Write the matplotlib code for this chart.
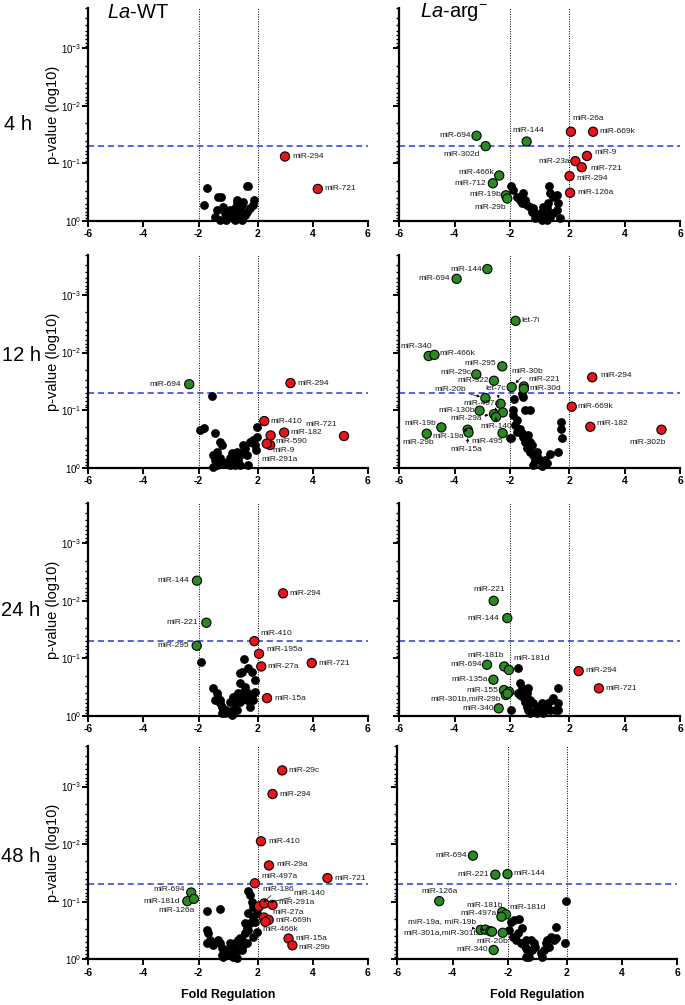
import numpy as np
import matplotlib
matplotlib.use('Agg')
import matplotlib.pyplot as plt
from matplotlib.ticker import FixedLocator, LogLocator, NullLocator

plt.rcParams['font.family'] = 'Liberation Sans'
plt.rcParams['mathtext.fontset'] = 'custom'
plt.rcParams['mathtext.rm'] = 'Liberation Sans'
plt.rcParams['mathtext.it'] = 'Liberation Sans:italic'
plt.rcParams['mathtext.bf'] = 'Liberation Sans:bold'

# ---- data: fold regulation (fc) and -log10(p) (nlp) ----
# La-WT 4 h
wt4_bg_fc = [-1.71, -1.81, -1.29, -1.20, -1.41, -1.23, -1.0, 1.12, 1.12, 1.18, 1.24, 1.24, 1.36, 1.42, 1.48,
             1.60, 1.66, 1.60, 1.72, 1.84, 1.87, -1.05, 1.0, 1.30, 1.0, -1.35, 1.42, 1.54, 1.18, -1.11]
wt4_bg_nlp = [0.58, 0.28, 0.42, 0.41, 0.075, 0.017, 0.017, 0.046, 0.133, 0.22, 0.31, 0.365, 0.19, 0.28, 0.336,
              0.60, 0.60, 0.16, 0.22, 0.28, 0.365, 0.133, 0.19, 0.075, 0.075, 0.19, 0.017, 0.104, 0.017, 0.25]
wt4_lab = ['miR-294', 'miR-721']
wt4_fc = [2.99, 4.18]
wt4_nlp = [1.12, 0.557]

# La-arg- 4 h
arg4_bg_fc = [-1.98, -1.88, -1.54, -1.64, -1.58, -1.40, -1.28, -1.16, -1.10, -1.10, -1.0, 1.0, 1.06, 1.12, 1.18,
              1.24, 1.28, 1.30, 1.42, 1.54, 1.60, 1.54, 1.42, 1.30, 1.18, 1.66, -1.22, -1.46, -1.76, 1.0, 1.06]
arg4_bg_nlp = [0.60, 0.54, 0.49, 0.365, 0.31, 0.28, 0.25, 0.22, 0.133, 0.046, 0.075, 0.017, 0.046, 0.133, 0.22,
               0.31, 0.60, 0.48, 0.42, 0.45, 0.31, 0.19, 0.133, 0.075, 0.017, 0.046, 0.16, 0.365, 0.42, 0.16, 0.25]
arg4_lab = ['miR-694', 'miR-302d', 'miR-144', 'miR-466k', 'miR-712', 'miR-19b', 'miR-29b',
            'miR-26a', 'miR-669k', 'miR-9', 'miR-23a', 'miR-721', 'miR-294', 'miR-126a']
arg4_fc = [-3.21, -2.88, -1.40, -2.39, -2.62, -2.15, -2.10, 2.06, 2.86, 2.64, 2.22, 2.45, 2.01, 2.03]
arg4_nlp = [1.48, 1.30, 1.38, 0.79, 0.655, 0.446, 0.39, 1.55, 1.55, 1.13, 1.04, 0.933, 0.78, 0.49]

# La-WT 12 h
wt12_bg_fc = [-1.53, -1.95, -1.81, -1.41, -1.23, -1.35, -1.47, -1.41, -1.35, -1.47, -1.23, -1.11, -1.0, 1.0, 1.12,
              1.12, 1.18, 1.30, 1.36, 1.42, 1.48, 1.54, 1.60, 1.66, 1.72, 1.84, 1.90, 1.96, 1.98, 1.94,
              1.36, 1.0, 1.06, 1.24, -1.17]
wt12_bg_nlp = [1.25, 0.655, 0.696, 0.597, 0.452, 0.278, 0.22, 0.133, 0.046, 0.017, 0.162, 0.104, 0.075, 0.162, 0.22,
               0.104, 0.046, 0.133, 0.22, 0.278, 0.394, 0.336, 0.22, 0.046, 0.452, 0.48, 0.394, 0.713, 0.54, 0.307,
               0.046, 0.046, 0.25, 0.278, 0.394]
wt12_lab = ['miR-694', 'miR-294', 'miR-410', 'miR-182', 'miR-590', 'miR-9', 'miR-291a', 'miR-721']
wt12_fc = [-2.34, 3.19, 2.24, 2.96, 2.47, 2.45, 2.33, 5.13]
wt12_nlp = [1.45, 1.47, 0.81, 0.61, 0.56, 0.394, 0.417, 0.55]

# La-arg- 12 h
arg12_bg_fc = [-1.86, -1.58, -1.54, -1.46, -1.28, -1.88, -1.88, -1.76, -1.82, -1.64, -1.58, -1.52, -1.40, -1.28,
               -1.22, -1.40, -1.28, -1.16, -1.10, -1.16, 1.0, 1.12, 1.30, 1.60, 1.75, 1.69, 1.69, -1.99, -1.98,
               -1.76, -1.46, -1.34, 1.0, 1.18, -1.0, -1.04]
arg12_bg_nlp = [1.19, 1.28, 1.23, 1.00, 1.00, 1.00, 0.92, 0.83, 0.74, 0.68, 0.60, 0.54, 0.51, 0.45,
                0.39, 0.34, 0.28, 0.22, 0.133, 0.046, 0.104, 0.133, 0.23, 0.28, 0.51, 0.68, 0.80, 0.51, 0.51,
                0.626, 0.45, 0.57, 0.035, 0.075, 0.16, 0.28]
arg12_lab = ['miR-144', 'miR-694', 'let-7i', 'miR-340', 'miR-466k', 'miR-295', 'miR-29c', 'miR-322', 'miR-30b',
             'miR-221', 'miR-30d', 'miR-20b', 'let-7c', 'miR-497a', 'miR-130b', 'miR-29a', 'miR-140', 'miR-19b',
             'miR-29b', 'miR-19a', 'miR-15a', 'miR-495', 'miR-294', 'miR-669k', 'miR-182', 'miR-302b']
arg12_fc = [-2.82, -3.93, -1.80, -4.94, -4.73, -2.28, -3.22, -2.58, -1.94, -1.50, -1.50, -2.89, -2.34, -2.26,
            -3.10, -2.58, -2.51, -4.48, -5.01, -3.53, -3.50, -2.27, 2.83, 2.09, 2.76, 5.33]
arg12_nlp = [3.45, 3.28, 2.55, 1.94, 1.96, 1.76, 1.62, 1.51, 1.40, 1.41, 1.37, 1.21, 1.11, 0.96,
             0.99, 0.93, 0.88, 0.70, 0.59, 0.66, 0.61, 0.60, 1.57, 1.06, 0.71, 0.66]

# La-WT 24 h
wt24_bg_fc = [-1.93, -1.47, -1.35, -1.29, -1.23, -1.17, -1.11, -1.05, 1.0, 1.12, 1.18, 1.24, 1.30, 1.36, 1.36,
              1.42, 1.52, 1.66, 1.78, 1.90, 1.90, 1.84, 1.72, 1.60, 1.48, 1.36, 1.24, 1.06, -1.0, -1.17,
              1.12, 1.0, 1.78, 1.66, 1.54, 1.42, -1.23, -1.41]
wt24_bg_nlp = [0.93, 0.48, 0.394, 0.307, 0.22, 0.162, 0.104, 0.046, 0.046, 0.104, 0.22, 0.336, 0.394, 0.568, 0.742,
               0.771, 0.99, 0.83, 0.771, 0.626, 0.423, 0.278, 0.162, 0.278, 0.336, 0.249, 0.104, 0.017, 0.104, 0.046,
               0.336, 0.249, 0.336, 0.394, 0.51, 0.394, 0.278, 0.278]
wt24_lab = ['miR-144', 'miR-221', 'miR-295', 'miR-294', 'miR-410', 'miR-195a', 'miR-27a', 'miR-721', 'miR-15a']
wt24_fc = [-2.06, -1.72, -2.07, 2.92, 1.88, 2.05, 2.13, 3.96, 2.34]
wt24_nlp = [2.35, 1.62, 1.22, 2.13, 1.30, 1.08, 0.86, 0.92, 0.31]

# La-arg- 24 h
arg24_bg_fc = [-1.70, -1.98, -1.64, -1.58, -1.70, -1.52, -1.46, -1.40, -1.34, -1.28, -1.16, -1.04, 1.0, 1.06, 1.18,
               1.24, 1.36, 1.42, 1.60, 1.60, 1.60, 1.48, 1.30, 1.0, -1.04, -1.16, -1.28, -1.40, -1.34, -1.52, -1.64]
arg24_bg_nlp = [0.83, 0.104, 0.568, 0.48, 0.394, 0.336, 0.249, 0.162, 0.104, 0.046, 0.075, 0.046, 0.104, 0.046, 0.162,
                0.22, 0.278, 0.307, 0.48, 0.22, 0.104, 0.104, 0.104, 0.22, 0.162, 0.22, 0.278, 0.394, 0.48, 0.452, 0.365]
arg24_lab = ['miR-221', 'miR-144', 'miR-694', 'miR-181b', 'miR-181d', 'miR-135a', 'miR-155', '',
             'miR-301b,miR-29b', '', 'miR-340', 'miR-294', 'miR-721']
arg24_fc = [-2.59, -2.10, -2.83, -2.21, -2.04, -2.60, -2.22, -2.03, -2.15, -2.09, -2.41, 2.34, 3.07]
arg24_nlp = [2.00, 1.70, 0.89, 0.86, 0.80, 0.63, 0.45, 0.42, 0.365, 0.39, 0.133, 0.78, 0.48]

# La-WT 48 h
wt48_bg_fc = [-1.71, -1.23, -1.71, -1.65, -1.59, -1.71, -1.47, -1.29, -1.23, -1.17, -1.17, -1.11, 1.0, 1.12, 1.24,
              1.06, 1.12, 1.18, 1.30, 1.36, 1.42, 1.54, 1.66, 1.72, 1.66, 1.84, 1.96, 1.90, 1.96, 1.84,
              1.60, 1.48, 1.42, 1.60, 1.66, 1.72, 1.78, 1.84, 1.54, 1.30, 1.12, 1.0, -1.0]
wt48_bg_nlp = [0.846, 0.87, 0.51, 0.464, 0.336, 0.278, 0.249, 0.336, 0.278, 0.191, 0.075, 0.046, 0.075, 0.046, 0.017,
               0.162, 0.22, 0.278, 0.336, 0.365, 0.336, 0.452, 0.51, 0.626, 0.80, 0.742, 0.80, 0.655, 0.48, 0.394,
               0.278, 0.249, 0.162, 0.54, 1.18, 1.12, 1.00, 0.916, 0.626, 0.162, 0.133, 0.278, 0.162]
wt48_lab = ['miR-694', 'miR-181d', 'miR-126a', 'miR-29c', 'miR-294', 'miR-410', 'miR-29a', 'miR-497a', 'miR-721',
            'miR-186', 'miR-140', 'miR-291a', 'miR-27a', 'miR-669h', 'miR-466k', 'miR-15a', 'miR-29b']
wt48_fc = [-2.27, -2.41, -2.17, 2.89, 2.54, 2.12, 2.41, 1.90, 4.53, 2.05, 2.24, 2.54, 2.23, 2.40, 2.28, 3.12, 3.26]
wt48_nlp = [1.16, 1.01, 1.05, 3.28, 2.87, 2.05, 1.63, 1.32, 1.41, 0.92, 0.97, 0.945, 0.725, 0.684, 0.65, 0.36, 0.243]

# La-arg- 48 h
arg48_bg_fc = [1.98, 1.95, -1.88, -1.76, -1.58, -1.94, -1.82, -1.70, -1.47, -1.53, -1.41, -1.35, -1.29, -1.35, -1.23,
               -1.11, -1.05, -1.0, 1.05, 1.11, 1.17, 1.23, 1.29, 1.41, 1.53, 1.59, 1.59, 1.35, -1.17, -1.64, -1.35]
arg48_bg_nlp = [1.01, 0.29, 0.655, 0.684, 0.696, 0.51, 0.394, 0.336, 0.54, 0.278, 0.249, 0.191, 0.162, 0.046, 0.046,
                0.162, 0.278, 0.22, 0.104, 0.046, 0.162, 0.278, 0.336, 0.394, 0.336, 0.568, 0.365, 0.22, 0.336, 0.452, 0.336]
arg48_lab = ['miR-694', 'miR-221', 'miR-144', 'miR-126a', 'miR-181b', 'miR-181d', 'miR-497a', 'miR-19a, miR-19b',
             'miR-301a,miR-301b', '', '', 'miR-20b', 'miR-340']
arg48_fc = [-3.26, -2.45, -2.01, -4.48, -2.20, -2.06, -2.23, -2.98, -2.81, -2.63, -2.57, -2.18, -2.51]
arg48_nlp = [1.80, 1.47, 1.48, 1.01, 0.82, 0.78, 0.74, 0.51, 0.516, 0.487, 0.48, 0.46, 0.162]

# ---- label layout: (dx px, dy px, ha, arrow) ----
wt4_pos = [(7, 0, 'left', 0), (7, 0, 'left', 0)]
arg4_pos = [(-6, 0, 'right', 0), (-6, -8, 'right', 0), (2, 11, 'center', 0), (-5, 3, 'right', 0),
            (-7, 0, 'right', 0), (-5, 1, 'right', 0), (-1, -9, 'right', 0), (1, 13, 'left', 0),
            (6, 0, 'left', 0), (7, 3, 'left', 0), (-5, 0, 'right', 0), (9, -1, 'left', 0),
            (7, -2, 'left', 0), (7, 0, 'left', 0)]
wt12_pos = [(-8, 0, 'right', 0), (7, 0, 'left', 0), (6, 0, 'left', 0), (6, 0, 'left', 0), (5, -6, 'left', 0),
            (2, -5, 'left', 0), (-5, -16, 'left', 0), (-7, 12, 'right', 0)]
arg12_pos = [(-5, 0, 'right', 0), (-7, 0, 'right', 0), (6, 0, 'left', 0), (3, 9, 'right', 0), (5, 1, 'left', 0),
             (-6, 3, 'right', 0), (-5, 2, 'right', 0), (-5, 0, 'right', 0), (0, 16, 'left', 1), (5, 7, 'left', 0),
             (6, 0, 'left', 0), (-19, 9, 'right', 1), (-15, 15, 'left', 1), (-3, 9, 'right', 1),
             (-5, 0, 'right', 0), (-12, -4, 'right', 1), (0, -9, 'center', 1), (-5, 4, 'right', 0),
             (-9, -9, 'center', 0), (-35, -7, 'left', 1), (-2, -17, 'center', 1), (0, -8, 'right', 0),
             (8, 2, 'left', 0), (6, 0, 'left', 0), (6, 3, 'left', 0), (4, -13, 'right', 0)]
wt24_pos = [(-8, 0, 'right', 0), (-8, 0, 'right', 0), (-8, 0, 'right', 0), (6, 0, 'left', 0), (6, 8, 'left', 0),
            (7, 4, 'left', 0), (6, 0, 'left', 0), (7, 0, 'left', 0), (7, 0, 'left', 0)]
arg24_pos = [(-4, 11, 'center', 0), (-8, 0, 'right', 0), (-5, 0, 'right', 0), (0, 11, 'right', 0),
             (4, 11, 'left', 0), (-6, 0, 'right', 0), (-6, 0, 'right', 0), None, (-5, -4, 'right', 0), None,
             (-5, 0, 'right', 0), (7, 1, 'left', 0), (7, 0, 'left', 0)]
wt48_pos = [(-6, 3, 'right', 0), (-7, 0, 'right', 0), (1, -12, 'right', 0), (6, 0, 'left', 0), (7, 0, 'left', 0),
            (7, 0, 'left', 0), (7, 1, 'left', 0), (6, 7, 'left', 0), (7, 0, 'left', 0), (3, 17, 'left', 1),
            (29, 10, 'left', 1), (6, 2, 'left', 0), (8, 5, 'left', 0), (7, -1, 'left', 0), (-3, -8, 'left', 0),
            (7, 0, 'left', 0), (6, -2, 'left', 0)]
arg48_pos = [(-6, 0, 'right', 0), (-6, 0, 'right', 0), (6, 1, 'left', 0), (0, 10, 'center', 0), (1, 7, 'right', 0),
             (3, 7, 'left', 0), (-5, 3, 'right', 0), (-5, 8, 'right', 1), (-7, -3, 'right', 1), None, None,
             (5, -9, 'right', 0), (-6, 0, 'right', 0)]

# fold regulation axis: -1 and +1 meet in the middle
C = 0.93


def fwd(x):
    x = np.asarray(x, dtype=float)
    return np.where(np.abs(x) >= 1, x - np.sign(x) * C, x * (1 - C))


def inv(t):
    t = np.asarray(t, dtype=float)
    return np.where(np.abs(t) >= 1 - C, t + np.sign(t) * C, t / (1 - C))


W, H = 685, 1005
fig = plt.figure(figsize=(W / 100, H / 100), dpi=100)

RED = '#e8141c'
GREEN = '#2a8a22'


def draw(x0, x1, ybot, bg_fc, bg_nlp, lab, fc, nlp, pos, left):
    ax = fig.add_axes([x0 / W, (H - ybot) / H, (x1 - x0) / W, 213 / H])
    ax.set_xscale('function', functions=(fwd, inv))
    ax.set_yscale('log')
    ax.set_xlim(-6, 6)
    ax.set_ylim(1, 2e-4)

    ax.axvline(-2, color='k', ls=(0, (1, 1.5)), lw=0.7, zorder=1)
    ax.axvline(2, color='k', ls=(0, (1, 1.5)), lw=0.7, zorder=1)
    ax.axhline(0.05, color='#2b3bd6', ls=(0, (4, 2.5)), lw=1.1, zorder=1)

    ax.scatter(bg_fc, 10 ** -np.array(bg_nlp), s=40, c='k', lw=0, clip_on=False, zorder=3)
    cols = [RED if v > 0 else GREEN for v in fc]
    ax.scatter(fc, 10 ** -np.array(nlp), s=44, c=cols, edgecolors='k', linewidths=0.8,
               clip_on=False, zorder=4)

    for t, x, v, p in zip(lab, fc, nlp, pos):
        if p is None:
            continue
        dx, dy, ha, arrow = p
        props = None
        if arrow:
            props = dict(arrowstyle='-|>', lw=0.5, color='k', mutation_scale=4, shrinkA=0, shrinkB=4)
        ax.annotate(t, (x, 10 ** -v), xytext=(dx, dy), textcoords='offset pixels', ha=ha, va='center',
                    fontsize=6, color='#1a1a1a', arrowprops=props, annotation_clip=False, zorder=5)

    for s in ['top', 'right']:
        ax.spines[s].set_visible(False)
    for s in ['left', 'bottom']:
        ax.spines[s].set_linewidth(1.6)

    ax.set_xticks([-6, -4, -2, 2, 4, 6])
    ax.set_xticklabels(['-6', '-4', '-2', '2', '4', '6'], fontweight='bold', fontsize=7.5)
    ax.xaxis.set_minor_locator(NullLocator())
    ax.yaxis.set_major_locator(FixedLocator([1, 1e-1, 1e-2, 1e-3]))
    ax.yaxis.set_minor_locator(LogLocator(base=10, subs=np.arange(2, 10)))
    if left:
        ax.set_yticklabels([r'$10^{0}$', r'$10^{-1}$', r'$10^{-2}$', r'$10^{-3}$'], fontsize=7)
    else:
        ax.set_yticklabels([])
    ax.yaxis.set_minor_formatter(plt.NullFormatter())
    ax.tick_params(which='major', direction='out', length=4, width=1.4, pad=2)
    ax.tick_params(axis='y', which='major', pad=1)
    ax.tick_params(which='minor', direction='out', length=2.5, width=1.0)
    return ax


rows = [221, 467.7, 716, 959.3]
draw(88.3, 368, rows[0], wt4_bg_fc, wt4_bg_nlp, wt4_lab, wt4_fc, wt4_nlp, wt4_pos, True)
draw(399.3, 680, rows[0], arg4_bg_fc, arg4_bg_nlp, arg4_lab, arg4_fc, arg4_nlp, arg4_pos, False)
draw(88.3, 368, rows[1], wt12_bg_fc, wt12_bg_nlp, wt12_lab, wt12_fc, wt12_nlp, wt12_pos, True)
draw(399.3, 680, rows[1], arg12_bg_fc, arg12_bg_nlp, arg12_lab, arg12_fc, arg12_nlp, arg12_pos, False)
draw(88.3, 368, rows[2], wt24_bg_fc, wt24_bg_nlp, wt24_lab, wt24_fc, wt24_nlp, wt24_pos, True)
draw(399.3, 680, rows[2], arg24_bg_fc, arg24_bg_nlp, arg24_lab, arg24_fc, arg24_nlp, arg24_pos, False)
draw(88.3, 368, rows[3], wt48_bg_fc, wt48_bg_nlp, wt48_lab, wt48_fc, wt48_nlp, wt48_pos, True)
draw(397.3, 677.3, rows[3], arg48_bg_fc, arg48_bg_nlp, arg48_lab, arg48_fc, arg48_nlp, arg48_pos, False)

# column titles
fig.text(138 / W, 1 - 12 / H, r'$\mathit{La}$-WT', ha='center', va='center', fontsize=14.5)
fig.text(454 / W, 1 - 12 / H, r'$\mathit{La}$-arg$^{-}$', ha='center', va='center', fontsize=14.5)

# row labels and y labels
row_names = ['4 h', '12 h', '24 h', '48 h']
row_label_y = [124, 355, 611, 856]
row_label_x = [18, 21, 21, 21]
for name, yb, yl, xl in zip(row_names, rows, row_label_y, row_label_x):
    fig.text(xl / W, 1 - yl / H, name, ha='center', va='center', fontsize=14.5)
    fig.text(53 / W, 1 - (yb - 106) / H, 'p-value (log10)', ha='center', va='center', rotation=90,
             fontsize=10.5)

fig.text(228 / W, 1 - 995 / H, 'Fold Regulation', ha='center', va='center', fontsize=9, fontweight='bold')
fig.text(537 / W, 1 - 995 / H, 'Fold Regulation', ha='center', va='center', fontsize=9, fontweight='bold')

fig.savefig('out.png', dpi=100)
